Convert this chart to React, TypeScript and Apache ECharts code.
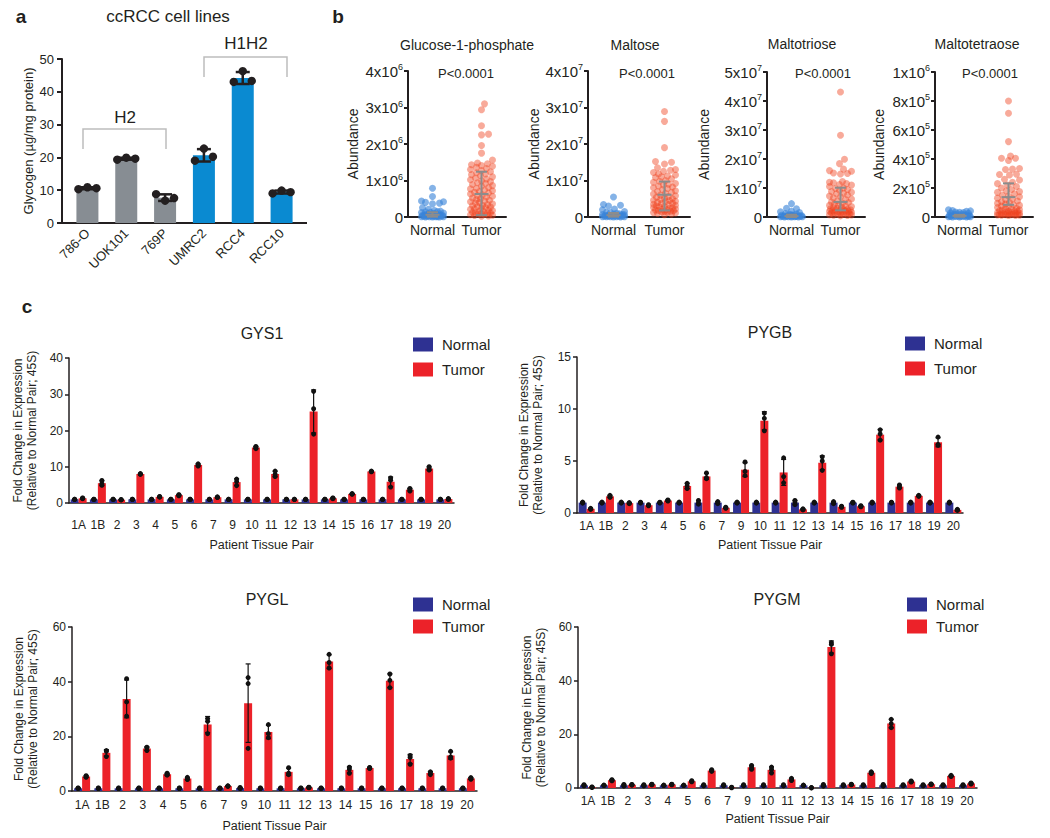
import React, { useEffect, useRef } from 'react';
import * as echarts from 'echarts';

const FONT = '"Liberation Sans", Arial, Helvetica, sans-serif';
const INK = '#231f20';

// ---------------- Panel a: glycogen in ccRCC cell lines ----------------
const cellLines = ['786-O', 'UOK101', '769P', 'UMRC2', 'RCC4', 'RCC10'];
const cellGroups = ['H2', 'H2', 'H2', 'H1H2', 'H1H2', 'H1H2'];
const glycogenReplicates = [
  [10.3, 10.9, 10.6],
  [19.3, 19.9, 19.6],
  [8.8, 6.8, 7.6],
  [19.0, 22.7, 20.2],
  [43.0, 46.3, 43.3],
  [9.0, 9.9, 9.4],
];
const glycogenAxisMax = 50;
const glycogenAxisStep = 10;

// ---------------- Panel b: metabolite abundance ----------------
const metaboliteNames = ['Glucose-1-phosphate', 'Maltose', 'Maltotriose', 'Maltotetraose'];
const metaboliteScale = [1e6, 1e7, 1e7, 1e5]; // values below are in these units
const metaboliteAxisMax = [4, 4, 5, 10];
const metaboliteAxisStep = [1, 1, 1, 2];
const metabolitePValues = ['P<0.0001', 'P<0.0001', 'P<0.0001', 'P<0.0001'];
const groupNames = ['Normal', 'Tumor'];

const g1pNormal = [0.79, 0.56, 0.44, 0.42, 0.40, 0.38, 0.36, 0.25, 0.21, 0.18, 0.16, 0.15, 0.14, 0.13, 0.12, 0.11, 0.10, 0.09, 0.09, 0.08, 0.07, 0.07, 0.06, 0.06, 0.05, 0.05, 0.05, 0.04, 0.04, 0.04, 0.03, 0.03, 0.03, 0.03, 0.02, 0.02, 0.02, 0.02, 0.01, 0.01, 0.01, 0.01, 0.01, 0.00, 0.00, 0.00];
const g1pTumor = [3.10, 2.94, 2.50, 2.27, 2.25, 1.96, 1.75, 1.56, 1.48, 1.46, 1.43, 1.41, 1.39, 1.36, 1.33, 1.30, 1.27, 1.24, 1.21, 1.18, 1.16, 1.13, 1.10, 1.07, 1.04, 1.02, 0.99, 0.97, 0.94, 0.92, 0.89, 0.86, 0.84, 0.81, 0.79, 0.77, 0.74, 0.72, 0.70, 0.68, 0.66, 0.63, 0.61, 0.59, 0.57, 0.55, 0.52, 0.50, 0.48, 0.46, 0.44, 0.42, 0.40, 0.38, 0.36, 0.34, 0.32, 0.31, 0.29, 0.27, 0.26, 0.24, 0.22, 0.21, 0.19, 0.18, 0.16, 0.15, 0.13, 0.12, 0.11, 0.10, 0.09, 0.08, 0.07, 0.06, 0.05, 0.04, 0.03, 0.02];
const maltoseNormal = [0.55, 0.34, 0.32, 0.30, 0.22, 0.20, 0.15, 0.13, 0.12, 0.10, 0.09, 0.08, 0.07, 0.07, 0.06, 0.05, 0.05, 0.04, 0.04, 0.03, 0.03, 0.03, 0.02, 0.02, 0.02, 0.02, 0.01, 0.01, 0.01, 0.01, 0.01, 0.00, 0.00];
const maltoseTumor = [2.89, 2.62, 1.90, 1.52, 1.50, 1.45, 1.35, 1.30, 1.28, 1.25, 1.22, 1.18, 1.15, 1.12, 1.10, 1.08, 1.05, 1.00, 0.98, 0.95, 0.92, 0.90, 0.88, 0.85, 0.82, 0.80, 0.78, 0.75, 0.72, 0.70, 0.68, 0.65, 0.63, 0.60, 0.58, 0.56, 0.54, 0.52, 0.50, 0.48, 0.46, 0.45, 0.43, 0.42, 0.40, 0.38, 0.37, 0.35, 0.34, 0.32, 0.30, 0.29, 0.28, 0.26, 0.25, 0.24, 0.22, 0.21, 0.20, 0.19, 0.18, 0.17, 0.16, 0.15, 0.14, 0.13, 0.12, 0.11, 0.10, 0.08, 0.06];
const maltotrioseNormal = [0.46, 0.30, 0.28, 0.20, 0.18, 0.15, 0.12, 0.10, 0.09, 0.08, 0.07, 0.06, 0.05, 0.05, 0.04, 0.04, 0.03, 0.03, 0.03, 0.02, 0.02, 0.02, 0.02, 0.01, 0.01, 0.01, 0.01, 0.00, 0.00, 0.00];
const maltotrioseTumor = [4.31, 2.82, 1.99, 1.84, 1.65, 1.60, 1.58, 1.52, 1.50, 1.48, 1.22, 1.20, 1.18, 1.15, 1.12, 1.10, 1.05, 1.00, 0.98, 0.95, 0.92, 0.88, 0.85, 0.82, 0.80, 0.76, 0.72, 0.70, 0.66, 0.62, 0.60, 0.56, 0.52, 0.50, 0.48, 0.45, 0.42, 0.40, 0.38, 0.36, 0.34, 0.32, 0.30, 0.28, 0.27, 0.26, 0.25, 0.24, 0.23, 0.22, 0.21, 0.20, 0.19, 0.18, 0.17, 0.16, 0.15, 0.14, 0.13, 0.12, 0.11, 0.10, 0.09, 0.08, 0.07, 0.06, 0.05, 0.04];
const maltotetraoseNormal = [0.50, 0.45, 0.42, 0.40, 0.35, 0.32, 0.30, 0.28, 0.25, 0.22, 0.20, 0.18, 0.16, 0.15, 0.14, 0.12, 0.10, 0.09, 0.08, 0.07, 0.06, 0.05, 0.05, 0.04, 0.04, 0.03, 0.03, 0.02, 0.02, 0.01, 0.01, 0.00];
const maltotetraoseTumor = [8.0, 7.15, 5.2, 4.2, 4.05, 4.05, 3.9, 3.35, 3.3, 3.28, 2.95, 2.93, 2.9, 2.6, 2.55, 2.4, 2.3, 2.2, 2.1, 2.0, 1.9, 1.8, 1.75, 1.7, 1.6, 1.5, 1.45, 1.4, 1.3, 1.25, 1.2, 1.1, 1.05, 1.0, 0.95, 0.9, 0.85, 0.8, 0.75, 0.7, 0.65, 0.6, 0.58, 0.55, 0.5, 0.48, 0.45, 0.42, 0.4, 0.38, 0.35, 0.33, 0.3, 0.28, 0.26, 0.25, 0.24, 0.22, 0.2, 0.19, 0.18, 0.17, 0.16, 0.15, 0.14, 0.13, 0.12, 0.11, 0.1];
const metaboliteNormal = [g1pNormal, maltoseNormal, maltotrioseNormal, maltotetraoseNormal];
const metaboliteTumor = [g1pTumor, maltoseTumor, maltotrioseTumor, maltotetraoseTumor];
// gray whisker: [low cap, centre line, high cap]
const normalWhisker = [[0.01, 0.06, 0.13], [0.01, 0.05, 0.11], [0.0, 0.03, 0.08], [0.02, 0.08, 0.15]];
const tumorWhisker = [[0.05, 0.63, 1.24], [0.18, 0.61, 0.97], [0.23, 0.52, 1.01], [0.84, 1.37, 2.32]];

// ---------------- Panel c: qPCR fold change ----------------
const tissuePairs = ['1A', '1B', '2', '3', '4', '5', '6', '7', '9', '10', '11', '12', '13', '14', '15', '16', '17', '18', '19', '20'];
const geneNames = ['GYS1', 'PYGB', 'PYGL', 'PYGM'];
const geneAxisMax = [40, 15, 60, 60];
const geneAxisStep = [10, 5, 20, 20];

const gys1Normal = [[0.95, 1.0, 1.05], [0.96, 1.0, 1.04], [0.95, 1.0, 1.05], [0.97, 1.0, 1.03], [0.95, 1.0, 1.05], [0.94, 1.0, 1.06], [0.96, 1.0, 1.04], [0.95, 1.0, 1.05], [0.95, 1.0, 1.05], [0.96, 1.0, 1.04], [0.95, 1.0, 1.05], [0.97, 1.0, 1.03], [0.95, 1.0, 1.05], [0.96, 1.0, 1.04], [0.95, 1.0, 1.05], [0.96, 1.0, 1.04], [0.95, 1.0, 1.05], [0.94, 1.0, 1.06], [0.95, 1.0, 1.05], [0.96, 1.0, 1.04]];
const gys1Tumor = [[1.2, 1.3, 1.4], [4.9, 5.3, 6.2], [0.85, 0.9, 0.95], [7.9, 8.0, 8.1], [1.6, 1.7, 1.8], [2.0, 2.2, 2.3], [10.2, 10.5, 10.8], [1.5, 1.6, 1.7], [4.8, 5.9, 6.6], [15.0, 15.3, 15.6], [7.3, 7.9, 8.8], [0.95, 1.0, 1.05], [19.0, 26.0, 30.8], [1.2, 1.3, 1.4], [2.4, 2.5, 2.6], [8.6, 8.7, 8.8], [4.4, 6.3, 6.9], [3.3, 3.7, 4.0], [9.1, 9.4, 10.0], [1.0, 1.1, 1.2]];
const pygbNormal = [[0.95, 1.0, 1.05], [0.95, 1.0, 1.05], [0.95, 1.0, 1.05], [0.96, 1.0, 1.04], [0.96, 1.0, 1.04], [0.95, 1.0, 1.05], [0.85, 0.95, 1.2], [0.9, 1.0, 1.1], [0.95, 1.0, 1.05], [0.95, 1.0, 1.05], [0.95, 1.0, 1.05], [0.8, 1.0, 1.2], [0.95, 1.0, 1.05], [0.9, 1.0, 1.1], [0.96, 1.0, 1.04], [0.95, 1.0, 1.05], [0.96, 1.0, 1.04], [0.95, 1.0, 1.05], [0.95, 1.0, 1.05], [0.95, 1.0, 1.05]];
const pygbTumor = [[0.35, 0.4, 0.45], [1.5, 1.6, 1.7], [0.9, 0.95, 1.0], [0.7, 0.75, 0.8], [1.15, 1.2, 1.25], [2.35, 2.6, 2.85], [3.3, 3.4, 3.85], [0.45, 0.5, 0.55], [3.6, 4.0, 4.9], [7.9, 9.1, 9.6], [2.9, 3.5, 5.3], [0.3, 0.35, 0.4], [4.1, 5.0, 5.4], [0.55, 0.6, 0.65], [0.6, 0.65, 0.7], [7.0, 7.6, 8.0], [2.4, 2.5, 2.7], [1.6, 1.65, 1.7], [6.5, 6.6, 7.3], [0.25, 0.3, 0.35]];
const pyglNormal = [[0.9, 1.0, 1.1], [0.9, 1.0, 1.1], [0.9, 1.0, 1.1], [0.9, 1.0, 1.1], [0.9, 1.0, 1.1], [0.9, 1.0, 1.1], [0.9, 1.0, 1.1], [0.9, 1.0, 1.1], [0.9, 1.0, 1.3], [0.9, 1.0, 1.1], [0.9, 1.0, 1.1], [0.9, 1.0, 1.1], [0.9, 1.0, 1.1], [0.9, 1.0, 1.1], [0.9, 1.0, 1.1], [0.9, 1.0, 1.1], [0.9, 1.0, 1.1], [0.9, 1.0, 1.1], [0.9, 1.0, 1.1], [0.9, 1.0, 1.1]];
const pyglTumor = [[5.0, 5.3, 5.6], [12.6, 14.5, 14.8], [27.4, 32.6, 41.1], [14.8, 15.8, 16.0], [5.8, 6.1, 6.5], [4.2, 4.5, 5.0], [21.0, 25.5, 26.5], [1.7, 1.8, 1.9], [15.6, 39.3, 41.5], [19.5, 21.0, 24.3], [6.0, 6.5, 8.5], [1.2, 1.3, 1.4], [45.0, 47.0, 50.0], [6.5, 8.0, 8.7], [8.2, 8.4, 8.6], [37.8, 40.5, 42.8], [9.8, 12.3, 13.0], [6.0, 6.8, 7.0], [12.0, 12.5, 14.5], [4.3, 4.6, 4.9]];
const pygmNormal = [[0.8, 1.0, 1.2], [0.9, 1.0, 1.1], [0.7, 1.0, 1.3], [0.8, 1.0, 1.2], [0.9, 1.0, 1.1], [0.9, 1.0, 1.1], [0.8, 1.0, 1.2], [0.8, 1.0, 1.2], [0.8, 1.0, 1.2], [0.8, 1.0, 1.2], [0.8, 1.0, 1.2], [0.9, 1.0, 1.1], [0.7, 1.0, 1.3], [0.8, 1.0, 1.2], [0.8, 1.0, 1.2], [0.7, 1.0, 1.3], [0.8, 1.0, 1.2], [0.8, 1.0, 1.2], [0.8, 1.0, 1.2], [0.8, 1.0, 1.2]];
const pygmTumor = [[0.2, 0.3, 0.4], [2.7, 2.9, 3.1], [1.1, 1.2, 1.3], [1.2, 1.3, 1.4], [1.2, 1.3, 1.4], [2.3, 2.5, 2.7], [6.2, 6.5, 6.8], [0.1, 0.2, 0.3], [7.0, 7.8, 8.4], [5.6, 6.9, 7.8], [2.8, 3.2, 3.6], [0.05, 0.1, 0.15], [50.0, 53.5, 54.2], [1.2, 1.3, 1.4], [5.4, 5.7, 6.0], [22.5, 24.0, 25.6], [2.2, 2.4, 2.6], [1.3, 1.4, 1.5], [4.3, 4.5, 4.7], [1.5, 1.7, 1.9]];
const geneNormal = [gys1Normal, pygbNormal, pyglNormal, pygmNormal];
const geneTumor = [gys1Tumor, pygbTumor, pyglTumor, pygmTumor];

// ---------------- layout (positions & styles, not data) ----------------
const GRID_A = { left: 68, top: 59, width: 233, height: 164 };
const GRID_B = [
  { left: 408, top: 71, width: 98, height: 146 },
  { left: 588, top: 71, width: 102, height: 146 },
  { left: 767, top: 72, width: 98, height: 145 },
  { left: 935, top: 72, width: 98, height: 145 },
];
const B_NAME_GAP = [48, 47, 56, 49];
const GRID_C = [
  { left: 69, top: 358, width: 385, height: 145 },
  { left: 577, top: 357, width: 386, height: 156 },
  { left: 72, top: 627, width: 405, height: 164 },
  { left: 578, top: 627, width: 399, height: 161 },
];
const C_LABEL_MARGIN = [16, 7, 8, 7];
const C_NAME_GAP = [35, 25, 28, 24];
const C_YNAME_GAP = [30, 32, 32, 30];
const C_LEGEND = [
  { left: 413, top: 337, gap: 10 },
  { left: 905, top: 336, gap: 10 },
  { left: 413, top: 597, gap: 7 },
  { left: 907, top: 597, gap: 7 },
];
const C_TITLE = [[262, 333], [770, 332], [267, 599], [777, 599]];
const B_TITLE = [[467, 45], [635, 45], [802, 44], [977, 44]];
const B_P = [[466, 73], [647, 73], [823, 73], [990, 73]];

const GROUP_COLOR: Record<string, string> = { H2: '#878d93', H1H2: '#0a8ad1' };
const NORMAL_BAR = '#2e3192';
const TUMOR_BAR = '#ec2229';
const NORMAL_DOT = 'rgba(58,132,216,0.62)';
const TUMOR_DOT = 'rgba(240,66,30,0.45)';

const mean = (a: number[]) => a.reduce((s, v) => s + v, 0) / a.length;
const sd = (a: number[]) => {
  const m = mean(a);
  return Math.sqrt(a.reduce((s, v) => s + (v - m) * (v - m), 0) / (a.length - 1));
};

// deterministic beeswarm layout: horizontal pixel offsets for each value
function beeswarm(values: number[], pxPerUnit: number, diameter: number, maxHalf: number): number[] {
  const order = values.map((_, i) => i).sort((a, b) => values[a] - values[b]);
  const placed: Array<[number, number]> = [];
  const offsets = new Array(values.length).fill(0);
  for (const i of order) {
    const y = values[i] * pxPerUnit;
    let best = 0;
    let bestOverlap = Infinity;
    for (let k = 0; k <= maxHalf * 2; k++) {
      const dx = k === 0 ? 0 : (k % 2 ? 1 : -1) * Math.ceil(k / 2);
      let overlap = 0;
      for (const [px, py] of placed) {
        const d = Math.hypot(px - dx, py - y);
        if (d < diameter) overlap = Math.max(overlap, diameter - d);
      }
      if (overlap === 0) { best = dx; bestOverlap = 0; break; }
      if (overlap < bestOverlap - 1e-6) { bestOverlap = overlap; best = dx; }
    }
    offsets[i] = best;
    placed.push([best, y]);
  }
  return offsets;
}

function errorBarSeries(xi: number, yi: number, data: number[][], color: string, lw: number, cap: number, z: number, withMid = false, midCap = 0) {
  return {
    type: 'custom', xAxisIndex: xi, yAxisIndex: yi, z, silent: true,
    encode: { x: 0, y: [1, 2] },
    data,
    renderItem: (_p: any, api: any) => {
      const x = api.value(0);
      const lo = api.coord([x, api.value(1)]);
      const hi = api.coord([x, api.value(2)]);
      const cx = lo[0] + api.value(3);
      const style = { stroke: color, lineWidth: lw };
      const children: any[] = [
        { type: 'line', shape: { x1: cx, y1: lo[1], x2: cx, y2: hi[1] }, style },
        { type: 'line', shape: { x1: cx - cap, y1: hi[1], x2: cx + cap, y2: hi[1] }, style },
        { type: 'line', shape: { x1: cx - cap, y1: lo[1], x2: cx + cap, y2: lo[1] }, style },
      ];
      if (withMid) {
        const md = api.coord([x, api.value(4)]);
        children.push({ type: 'line', shape: { x1: cx - midCap, y1: md[1], x2: cx + midCap, y2: md[1] }, style });
      }
      return { type: 'group', children };
    },
  };
}

function dotSeries(xi: number, yi: number, data: number[][], color: string, r: number, z: number) {
  return {
    type: 'custom', xAxisIndex: xi, yAxisIndex: yi, z, silent: true,
    encode: { x: 0, y: 1 },
    data,
    renderItem: (_p: any, api: any) => {
      const p = api.coord([api.value(0), api.value(1)]);
      return { type: 'circle', shape: { cx: p[0] + api.value(2), cy: p[1], r }, style: { fill: color } };
    },
  };
}

function text(t: string, x: number, y: number, size: number, bold = false) {
  return {
    type: 'text', x, y, silent: true,
    style: { text: t, fontSize: size, fontFamily: FONT, fontWeight: bold ? 'bold' : 'normal', fill: INK, align: 'center', verticalAlign: 'middle', textAlign: 'center', textVerticalAlign: 'middle' },
  };
}

function buildOption() {
  const grid: any[] = [GRID_A, ...GRID_B, ...GRID_C];
  const xAxis: any[] = [];
  const yAxis: any[] = [];
  const series: any[] = [];
  const legend: any[] = [];
  const graphic: any[] = [];

  // ----- panel a -----
  xAxis.push({
    gridIndex: 0, type: 'category', data: cellLines,
    axisLine: { lineStyle: { color: INK, width: 2 } },
    axisTick: { alignWithLabel: true, length: 5, lineStyle: { color: INK, width: 2 } },
    axisLabel: { rotate: 45, interval: 0, fontSize: 13, margin: 8, color: INK, fontFamily: FONT },
  });
  yAxis.push({
    gridIndex: 0, type: 'value', min: 0, max: glycogenAxisMax, interval: glycogenAxisStep, offset: 6,
    axisLine: { show: true, lineStyle: { color: INK, width: 2 } },
    axisTick: { show: true, length: 5, lineStyle: { color: INK, width: 2 } },
    axisLabel: { fontSize: 13, margin: 8, color: INK, fontFamily: FONT },
    splitLine: { show: false },
    name: 'Glycogen (µg/mg protein)', nameLocation: 'middle', nameGap: 27,
    nameTextStyle: { fontSize: 13, color: INK, fontFamily: FONT },
  });
  const gMeans = glycogenReplicates.map(mean);
  series.push({
    type: 'bar', name: 'Glycogen', xAxisIndex: 0, yAxisIndex: 0, barWidth: 22, z: 2, silent: true,
    data: gMeans.map((m, i) => ({ value: m, itemStyle: { color: GROUP_COLOR[cellGroups[i]] } })),
  });
  series.push(errorBarSeries(0, 0, glycogenReplicates.map((r, i) => [i, mean(r) - sd(r), mean(r) + sd(r), 0]), INK, 2.5, 7, 4));
  const aOffsets = [-9, 0, 9];
  series.push(dotSeries(0, 0, glycogenReplicates.flatMap((r, i) => r.map((v, j) => [i, v, aOffsets[j]])), INK, 4.2, 5));
  graphic.push({ type: 'line', silent: true, shape: { x1: GRID_A.left - 7, y1: GRID_A.top + GRID_A.height, x2: GRID_A.left + GRID_A.width + 6, y2: GRID_A.top + GRID_A.height }, style: { stroke: INK, lineWidth: 2 } });
  graphic.push(text('a', 21, 16, 19, true));
  graphic.push(text('ccRCC cell lines', 168, 16, 17));
  graphic.push(text('H2', 125, 117, 17));
  graphic.push(text('H1H2', 246, 43, 17));
  graphic.push({ type: 'polyline', silent: true, shape: { points: [[83, 149], [83, 129], [166, 129], [166, 149]] }, style: { stroke: '#bdbdbd', lineWidth: 1.5, fill: 'none' } });
  graphic.push({ type: 'polyline', silent: true, shape: { points: [[204, 77], [204, 57], [287, 57], [287, 77]] }, style: { stroke: '#bdbdbd', lineWidth: 1.5, fill: 'none' } });

  // ----- panel b -----
  graphic.push(text('b', 338, 16, 19, true));
  metaboliteNames.forEach((name, k) => {
    const gi = 1 + k;
    const scale = metaboliteScale[k];
    xAxis.push({
      gridIndex: gi, type: 'category', data: groupNames,
      axisLine: { lineStyle: { color: INK, width: 2 } },
      axisTick: { alignWithLabel: true, length: 4, lineStyle: { color: INK, width: 2 } },
      axisLabel: { interval: 0, fontSize: 14, margin: 6, color: INK, fontFamily: FONT },
    });
    yAxis.push({
      gridIndex: gi, type: 'value', min: 0, max: metaboliteAxisMax[k], interval: metaboliteAxisStep[k],
      axisLine: { show: true, lineStyle: { color: INK, width: 2 } },
      axisTick: { show: true, length: 4, lineStyle: { color: INK, width: 2 } },
      axisLabel: {
        margin: 5, color: INK, fontFamily: FONT,
        formatter: (v: number) => {
          if (v === 0) return '{b|0}';
          const raw = v * scale;
          const e = Math.floor(Math.log10(raw) + 1e-9);
          const m = Math.round(raw / Math.pow(10, e));
          return `{b|${m}x10}{s|${e}}`;
        },
        rich: {
          b: { fontSize: 15, fontFamily: FONT, color: INK, lineHeight: 17 },
          s: { fontSize: 9, fontFamily: FONT, color: INK, verticalAlign: 'top', lineHeight: 17 },
        },
      },
      splitLine: { show: false },
      name: 'Abundance', nameLocation: 'middle', nameGap: B_NAME_GAP[k],
      nameTextStyle: { fontSize: 14, color: INK, fontFamily: FONT },
    });
    const pxPerUnit = GRID_B[k].height / metaboliteAxisMax[k];
    const nOff = beeswarm(metaboliteNormal[k], pxPerUnit, 6.5, 11);
    const tOff = beeswarm(metaboliteTumor[k], pxPerUnit, 6.5, 11);
    series.push(dotSeries(gi, gi, metaboliteNormal[k].map((v, i) => [0, v, nOff[i]]), NORMAL_DOT, 3.5, 3));
    series.push(dotSeries(gi, gi, metaboliteTumor[k].map((v, i) => [1, v, tOff[i]]), TUMOR_DOT, 3.5, 3));
    const nw = normalWhisker[k];
    const tw = tumorWhisker[k];
    series.push(errorBarSeries(gi, gi, [[0, nw[0], nw[2], 0, nw[1]], [1, tw[0], tw[2], 0, tw[1]]], '#8c8c8c', 2, 5.5, 5, true, 7));
    graphic.push(text(name, B_TITLE[k][0], B_TITLE[k][1], 14));
    graphic.push(text(metabolitePValues[k], B_P[k][0], B_P[k][1], 13));
  });

  // ----- panel c -----
  graphic.push(text('c', 27, 306, 19, true));
  geneNames.forEach((gene, k) => {
    const gi = 5 + k;
    xAxis.push({
      gridIndex: gi, type: 'category', data: tissuePairs,
      axisLine: { lineStyle: { color: INK, width: 1.5 } },
      axisTick: { show: false },
      axisLabel: { interval: 0, fontSize: 12, margin: C_LABEL_MARGIN[k], color: INK, fontFamily: FONT },
      name: 'Patient Tissue Pair', nameLocation: 'middle', nameGap: C_NAME_GAP[k],
      nameTextStyle: { fontSize: 12.5, color: INK, fontFamily: FONT },
    });
    yAxis.push({
      gridIndex: gi, type: 'value', min: 0, max: geneAxisMax[k], interval: geneAxisStep[k],
      axisLine: { show: true, lineStyle: { color: INK, width: 1.5 } },
      axisTick: { show: true, length: 4, lineStyle: { color: INK, width: 1.5 } },
      axisLabel: { fontSize: 12, margin: 6, color: INK, fontFamily: FONT },
      splitLine: { show: false },
      name: 'Fold Change in Expression\n(Relative to Normal Pair; 45S)', nameLocation: 'middle', nameGap: C_YNAME_GAP[k],
      nameTextStyle: { fontSize: 12, lineHeight: 14, color: INK, fontFamily: FONT },
    });
    const nr = geneNormal[k];
    const tr = geneTumor[k];
    series.push({ type: 'bar', name: 'Normal', xAxisIndex: gi, yAxisIndex: gi, barWidth: 8, barGap: '0%', z: 2, silent: true, itemStyle: { color: NORMAL_BAR }, data: nr.map(mean) });
    series.push({ type: 'bar', name: 'Tumor', xAxisIndex: gi, yAxisIndex: gi, barWidth: 8, barGap: '0%', z: 2, silent: true, itemStyle: { color: TUMOR_BAR }, data: tr.map(mean) });
    const errs = [
      ...nr.map((r, i) => [i, mean(r) - sd(r), mean(r) + sd(r), -4]),
      ...tr.map((r, i) => [i, mean(r) - sd(r), mean(r) + sd(r), 4]),
    ];
    series.push(errorBarSeries(gi, gi, errs, '#111', 1.2, 2.5, 4));
    const dots = [
      ...nr.flatMap((r, i) => r.map((v) => [i, v, -4])),
      ...tr.flatMap((r, i) => r.map((v) => [i, v, 4])),
    ];
    series.push(dotSeries(gi, gi, dots, '#111', 2.5, 5));
    legend.push({
      orient: 'vertical', left: C_LEGEND[k].left, top: C_LEGEND[k].top, padding: 0,
      itemWidth: 20, itemHeight: 14, itemGap: C_LEGEND[k].gap, icon: 'rect', selectedMode: false,
      data: ['Normal', 'Tumor'],
      textStyle: { fontSize: 15, lineHeight: 14, color: INK, fontFamily: FONT, padding: [0, 0, 0, 4] },
    });
    graphic.push(text(gene, C_TITLE[k][0], C_TITLE[k][1], 16));
  });

  return {
    animation: false,
    backgroundColor: '#ffffff',
    textStyle: { fontFamily: FONT },
    grid: grid.map((g) => ({ ...g, containLabel: false })),
    xAxis, yAxis, series, legend, graphic,
  };
}

export default function App() {
  const ref = useRef<HTMLDivElement>(null);
  useEffect(() => {
    if (!ref.current) return;
    const chart = echarts.init(ref.current, undefined, { renderer: 'svg' });
    chart.setOption(buildOption() as any);
    return () => chart.dispose();
  }, []);
  return <div ref={ref} style={{ position: 'absolute', left: 0, top: 0, width: 1050, height: 838 }} />;
}
